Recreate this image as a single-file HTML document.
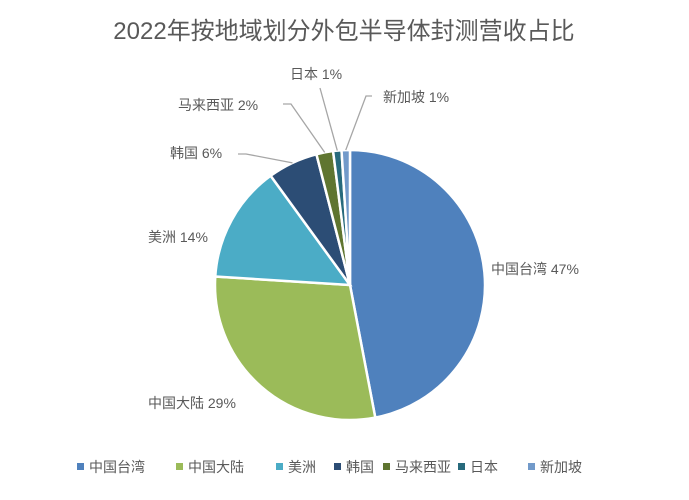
<!DOCTYPE html>
<html><head><meta charset="utf-8"><style>
body{margin:0;background:#fff;}
svg text{font-family:"Liberation Sans","Noto Sans CJK SC",sans-serif;fill:#595959;}
</style></head><body>
<svg width="689" height="495" viewBox="0 0 689 495" xmlns="http://www.w3.org/2000/svg">
<rect width="689" height="495" fill="#fff"/>
<text x="344" y="39" text-anchor="middle" font-size="24">2022年按地域划分外包半导体封测营收占比</text>
<g id="slices"></g>
<g id="labels"></g>
<g id="legend"></g>
</svg>
<script>
const categories=["中国台湾","中国大陆","美洲","韩国","马来西亚","日本","新加坡"];
const values=[47,29,14,6,2,1,1];
const pctLabels=["47%","29%","14%","6%","2%","1%","1%"];
const colors=["#4F81BD","#9BBB59","#4BACC6","#2C4D75","#5F7530","#276A7C","#729ACA"];
const NS="http://www.w3.org/2000/svg";
const cx=350,cy=285,r=135;
const total=values.reduce((a,b)=>a+b,0);
function pt(a,rr){return [cx+rr*Math.sin(a),cy-rr*Math.cos(a)];}
const sg=document.getElementById('slices'),lg=document.getElementById('labels'),leg=document.getElementById('legend');
// label anchor positions (layout)
const labelPos=[[491,274,'start'],[148,408,'start'],[148,242,'start'],[170,158,'start'],[178,110,'start'],[290,79,'start'],[383,102,'start']];
const leaderStart=[null,null,null,[238,154],[283,104],[320,88],[372,96]];
let acc=0;
values.forEach((v,i)=>{
  const a0=acc/total*2*Math.PI;acc+=v;const a1=acc/total*2*Math.PI;
  const p0=pt(a0,r),p1=pt(a1,r);
  const large=(a1-a0)>Math.PI?1:0;
  const p=document.createElementNS(NS,'path');
  p.setAttribute('d',`M${cx},${cy}L${p0[0]},${p0[1]}A${r},${r} 0 ${large} 1 ${p1[0]},${p1[1]}Z`);
  p.setAttribute('fill',colors[i]);p.setAttribute('stroke','#fff');p.setAttribute('stroke-width','2.5');
  
  
  sg.appendChild(p);
  const t=document.createElementNS(NS,'text');
  t.setAttribute('x',labelPos[i][0]);t.setAttribute('y',labelPos[i][1]);t.setAttribute('font-size','14');
  t.textContent=categories[i]+' '+pctLabels[i];
  
  
  lg.appendChild(t);
  if(leaderStart[i]){
    const m=pt((a0+a1)/2,r);
    const s=leaderStart[i];
    const pl=document.createElementNS(NS,'polyline');
    const bend=i===6?[s[0]-6,s[1]]:(i===5?s:[s[0]+8,s[1]]);
    pl.setAttribute('points',`${s[0]},${s[1]} ${bend[0]},${bend[1]} ${m[0]},${m[1]}`);
    pl.setAttribute('fill','none');pl.setAttribute('stroke','#a6a6a6');pl.setAttribute('stroke-width','1.3');
    
    
    lg.appendChild(pl);
  }
});
const legX=[77,176,276,334,383,458,528];
categories.forEach((c,i)=>{
  const g=document.createElementNS(NS,'g');
  
  
  const sq=document.createElementNS(NS,'rect');
  sq.setAttribute('x',legX[i]);sq.setAttribute('y',463);sq.setAttribute('width',7);sq.setAttribute('height',7);sq.setAttribute('fill',colors[i]);
  g.appendChild(sq);
  const t=document.createElementNS(NS,'text');
  t.setAttribute('x',legX[i]+12);t.setAttribute('y',472);t.setAttribute('font-size','14');t.textContent=c;
  g.appendChild(t);
  leg.appendChild(g);
});
</script>
</body></html>
